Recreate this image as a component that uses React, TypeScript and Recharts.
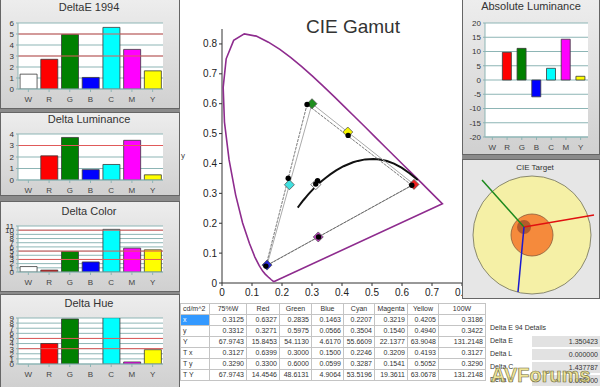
import React from 'react';
import {
  BarChart, Bar, Cell, XAxis, YAxis, CartesianGrid, ReferenceLine,
  ScatterChart, Scatter, ReferenceDot,
} from 'recharts';

const FONT = '"Liberation Sans", Arial, sans-serif';

// bar panels
const categories = ['W', 'R', 'G', 'B', 'C', 'M', 'Y'];
const barColors = ['#ffffff', '#ff0000', '#008000', '#0000ff', '#00ffff', '#ff00ff', '#ffff00'];

const deltaE1994 = [1.35, 2.7, 4.95, 1.05, 5.6, 3.6, 1.65];
const deltaLuminance = [0, 2.1, 3.7, 0.9, 1.35, 3.45, 0.45];
const deltaColor = [1.3, 0.45, 4.9, 2.4, 10.2, 5.7, 5.3];
const deltaHue = [0, 4.0, 8.8, 0, 9.05, 0.4, 2.8];
const absoluteLuminance = [0, 9.7, 11.1, -5.9, 4.1, 14.3, 1.3];

const ticksE = [0, 1, 2, 3, 4, 5, 6];
const ticksL = [0, 1, 2, 3, 4];
const ticksC = [0, 1, 2, 3, 4, 5, 6, 7, 8, 9, 10, 11];
const ticksH = [0, 1, 2, 3, 4, 5, 6, 7, 8, 9];
const ticksAbs = [-20, -15, -10, -5, 0, 5, 10, 15, 20];

const redE = [3, 5];
const redL = [3];
const redC = [3, 5, 10];
const redH = [3, 5];

// measurement table
const tableColumns = ['75%W', 'Red', 'Green', 'Blue', 'Cyan', 'Magenta', 'Yellow', '100W'];
const measuredX = [0.3125, 0.6327, 0.2835, 0.1463, 0.2207, 0.3219, 0.4205, 0.3186];
const measuredY = [0.3312, 0.3271, 0.5975, 0.0566, 0.3504, 0.1540, 0.4940, 0.3422];
const measuredLum = [67.9743, 15.8453, 54.1130, 4.6170, 55.6609, 22.1377, 63.9048, 131.2148];
const targetX = [0.3127, 0.6399, 0.3000, 0.1500, 0.2246, 0.3209, 0.4193, 0.3127];
const targetY = [0.3290, 0.3300, 0.6000, 0.0599, 0.3287, 0.1541, 0.5052, 0.3290];
const targetLum = [67.9743, 14.4546, 48.6131, 4.9064, 53.5196, 19.3611, 63.0678, 131.2148];
const diamondColors = ['#ffffff', '#f02020', '#1f8f1f', '#2828d8', '#40e0e0', '#c040c0', '#f5f500', '#ffffff'];

const deltaLabels = ['Delta E', 'Delta L', 'Delta C', 'Delta H'];
const deltaValues = ['1.350423', '0.000000', '1.437787', '0.000000'];

// CIE 1931 spectral locus (x, y)
const locusX = [0.1741, 0.1714, 0.1644, 0.1566, 0.1440, 0.1355, 0.1241, 0.1096, 0.0913, 0.0687, 0.0454, 0.0235, 0.0082, 0.0039, 0.0139, 0.0389, 0.0743, 0.1142, 0.1547, 0.1929, 0.2296, 0.2658, 0.3016, 0.3373, 0.3731, 0.4087, 0.4441, 0.4788, 0.5125, 0.5448, 0.5752, 0.6029, 0.6270, 0.6658, 0.6915, 0.7190, 0.7347, 0.1741];
const locusY = [0.0050, 0.0051, 0.0109, 0.0177, 0.0297, 0.0399, 0.0578, 0.0868, 0.1327, 0.2007, 0.2950, 0.4127, 0.5384, 0.6548, 0.7502, 0.8120, 0.8338, 0.8262, 0.8059, 0.7816, 0.7543, 0.7243, 0.6923, 0.6589, 0.6245, 0.5896, 0.5547, 0.5202, 0.4866, 0.4544, 0.4242, 0.3965, 0.3725, 0.3340, 0.3083, 0.2809, 0.2653, 0.0050];

// Planckian locus, 25000K down to 1000K
const planckX = [0.2525, 0.2565, 0.2637, 0.2719, 0.2807, 0.2869, 0.2952, 0.3064, 0.3135, 0.3221, 0.3325, 0.3451, 0.3608, 0.3805, 0.4053, 0.4369, 0.4527, 0.4770, 0.5046, 0.5267, 0.5497, 0.5733, 0.5985, 0.6251, 0.6528];
const planckY = [0.2522, 0.2577, 0.2673, 0.2778, 0.2884, 0.2956, 0.3048, 0.3166, 0.3237, 0.3318, 0.3411, 0.3516, 0.3636, 0.3768, 0.3907, 0.4041, 0.4086, 0.4137, 0.4152, 0.4133, 0.4084, 0.3993, 0.3858, 0.3674, 0.3444];

const gamutTicksX = [0, 0.1, 0.2, 0.3, 0.4, 0.5, 0.6, 0.7, 0.8];
const gamutTicksY = [0, 0.1, 0.2, 0.3, 0.4, 0.5, 0.6, 0.7, 0.8];

// CIE target vectors (a/b units, from the white error point)
const targetOrigin = { x: -1.6, y: 1.6 };
const targetR = { x: 12.4, y: 4.0 };
const targetG = { x: -10.0, y: 11.0 };
const targetB = { x: -2.8, y: -11.4 };

const locusPoints = locusX.map((x, i) => ({ x, y: locusY[i] }));
const planckPoints = planckX.map((x, i) => ({ x, y: planckY[i] }));
const targetPoints = tableColumns.slice(0, 7).map((name, i) => ({ name, x: targetX[i], y: targetY[i], color: diamondColors[i] }));
const measuredPoints = tableColumns.map((name, i) => ({ name, x: measuredX[i], y: measuredY[i] }));
const rgb = [1, 2, 3, 1];
const targetTriangle = rgb.map((i) => ({ x: targetX[i], y: targetY[i] }));
const measuredTriangle = rgb.map((i) => ({ x: measuredX[i], y: measuredY[i] }));

const NoShape = () => <g />;

const Diamond = (props: any) => {
  const { cx, cy, payload } = props;
  const s = 5;
  return (
    <polygon
      points={`${cx},${cy - s} ${cx + s},${cy} ${cx},${cy + s} ${cx - s},${cy}`}
      fill={payload.color}
      stroke="#555"
      strokeWidth={0.8}
    />
  );
};

const Dot = (props: any) => <circle cx={props.cx} cy={props.cy} r={2.7} fill="#000" />;

const fmt = (v: number) => (v === 0 ? '0' : v.toFixed(1));

const Box = ({ r, bg }: { r: number[]; bg: string }) => (
  <div style={{
    position: 'absolute', left: r[0], top: r[1], width: r[2], height: r[3],
    boxSizing: 'border-box', border: '1px solid #666', background: bg,
  }} />
);

const Title = ({ text, cx, cy, size }: { text: string; cx: number; cy: number; size: number }) => (
  <div style={{
    position: 'absolute', left: cx - 100, width: 200, top: cy - size * 0.6, textAlign: 'center',
    fontSize: size, lineHeight: `${size * 1.2}px`, color: '#333', fontFamily: FONT, whiteSpace: 'nowrap',
  }}>{text}</div>
);

const GRID = '#8db5b5';

interface BarPanelProps {
  values: number[];
  domain: [number, number];
  ticks: number[];
  redLines: number[];
  left: number;
  top: number;
  width: number;
  height: number;
  yAxisWidth: number;
  margin: { top: number; right: number };
  xAxisHeight: number;
  barGap: string;
}

const BarPanel: React.FC<BarPanelProps> = ({ values, domain, ticks, redLines, left, top, width, height, yAxisWidth, margin, xAxisHeight, barGap }) => {
  const data = categories.map((name, i) => ({ name, value: values[i] }));
  return (
    <div style={{ position: 'absolute', left, top }}>
      <BarChart width={width} height={height} data={data} barCategoryGap={barGap}
        margin={{ top: margin.top, right: margin.right, bottom: 0, left: 0 }}>
        <CartesianGrid vertical={false} stroke={GRID} fill="#ffffff" />
        <XAxis dataKey="name" interval={0} height={xAxisHeight} tickSize={3} tickMargin={4}
          stroke={GRID} tick={{ fontSize: 8, fill: '#444', fontFamily: FONT }} />
        <YAxis domain={domain} ticks={ticks} interval={0} width={yAxisWidth} tickSize={2} tickMargin={2}
          allowDataOverflow stroke={GRID} tick={{ fontSize: 8, fill: '#333', fontFamily: FONT }} />
        {redLines.map((v) => (
          <ReferenceLine key={v} y={v} stroke="#e05a5a" strokeWidth={1} />
        ))}
        <Bar dataKey="value" stroke="#3a3a3a" strokeWidth={0.8} isAnimationActive={false}>
          {data.map((d, i) => (
            <Cell key={d.name} fill={barColors[i]} />
          ))}
        </Bar>
      </BarChart>
    </div>
  );
};

const colWidths = [29, 37, 33, 32, 32, 31, 33, 31, 47];

const MeasureTable = () => {
  const rows: [string, number[]][] = [
    ['x', measuredX], ['y', measuredY], ['Y', measuredLum],
    ['T x', targetX], ['T y', targetY], ['T Y', targetLum],
  ];
  const cell: React.CSSProperties = {
    border: '1px solid #c4c4c4', height: 10, padding: '0 2px', fontSize: 7, lineHeight: '10px',
    fontFamily: FONT, color: '#333', whiteSpace: 'nowrap', overflow: 'hidden',
  };
  return (
    <table style={{
      position: 'absolute', left: 180, top: 303, borderCollapse: 'collapse', tableLayout: 'fixed',
      background: '#fff', border: '1px solid #888',
    }}>
      <colgroup>
        {colWidths.map((w, i) => <col key={i} style={{ width: w }} />)}
      </colgroup>
      <tbody>
        <tr>
          <td style={{ ...cell, textAlign: 'left' }}>cd/m^2</td>
          {tableColumns.map((c) => <td key={c} style={{ ...cell, textAlign: 'center' }}>{c}</td>)}
        </tr>
        {rows.map(([label, vals], r) => (
          <tr key={label}>
            <td style={{
              ...cell, textAlign: 'left',
              background: r === 0 ? '#3399ff' : '#fff', color: r === 0 ? '#fff' : '#333',
            }}>{label}</td>
            {vals.map((v, i) => <td key={i} style={{ ...cell, textAlign: 'right' }}>{v.toFixed(4)}</td>)}
          </tr>
        ))}
      </tbody>
    </table>
  );
};

const App: React.FC = () => {
  return (
    <div style={{
      position: 'absolute', left: 0, top: 0, width: 600, height: 387, overflow: 'hidden',
      background: '#ffffff', fontFamily: FONT,
    }}>
      {/* CIE gamut */}
      <div style={{ position: 'absolute', left: 180, top: 0 }}>
        <ScatterChart width={290} height={310} margin={{ top: 29, right: 8, bottom: 0, left: 0 }}>
          <XAxis type="number" dataKey="x" domain={[0, 0.8]} ticks={gamutTicksX} tickFormatter={fmt}
            height={27} tickSize={3} tickMargin={3} stroke="#333"
            tick={{ fontSize: 10, fill: '#222', fontFamily: FONT }} />
          <YAxis type="number" dataKey="y" domain={[0, 0.85]} ticks={gamutTicksY} tickFormatter={fmt}
            width={42} tickSize={3} tickMargin={2} stroke="#333"
            tick={{ fontSize: 10, fill: '#222', fontFamily: FONT }} />
          <Scatter data={locusPoints} line={{ stroke: '#8e2c8e', strokeWidth: 1.6 }} lineType="joint"
            shape={NoShape} isAnimationActive={false} />
          <Scatter data={planckPoints} line={{ stroke: '#111', strokeWidth: 2 }} lineType="joint"
            shape={NoShape} isAnimationActive={false} />
          <Scatter data={targetTriangle} line={{ stroke: '#aaaaaa', strokeWidth: 1 }} lineType="joint"
            shape={NoShape} isAnimationActive={false} />
          <Scatter data={measuredTriangle} line={{ stroke: '#555', strokeWidth: 0.8, strokeDasharray: '3 1' }}
            lineType="joint" shape={NoShape} isAnimationActive={false} />
          <Scatter data={targetPoints} shape={Diamond} isAnimationActive={false} />
          <Scatter data={measuredPoints} shape={Dot} isAnimationActive={false} />
        </ScatterChart>
      </div>
      <Title text="CIE Gamut" cx={353} cy={27} size={19} />
      <div style={{ position: 'absolute', left: 181, top: 151, fontSize: 8, color: '#444' }}>y</div>

      {/* left column */}
      <div style={{ position: 'absolute', left: 0, top: 0, width: 180, height: 387, background: '#8a8a8a' }} />
      <Box r={[0, -1, 180, 110]} bg="linear-gradient(#ededed, #d0d0d0)" />
      <Box r={[0, 112, 180, 84]} bg="linear-gradient(#ededed, #d0d0d0)" />
      <Box r={[0, 201, 180, 91]} bg="linear-gradient(#ededed, #d0d0d0)" />
      <Box r={[0, 294, 180, 94]} bg="linear-gradient(#ededed, #d0d0d0)" />

      <BarPanel values={deltaE1994} domain={[0, 6]} ticks={ticksE} redLines={redE}
        left={0} top={0} width={180} height={108} yAxisWidth={18} margin={{ top: 23, right: 17 }}
        xAxisHeight={19} barGap="10%" />
      <BarPanel values={deltaLuminance} domain={[0, 4]} ticks={ticksL} redLines={redL}
        left={0} top={112} width={180} height={85} yAxisWidth={18} margin={{ top: 22, right: 17 }}
        xAxisHeight={17} barGap="10%" />
      <BarPanel values={deltaColor} domain={[0, 11]} ticks={ticksC} redLines={redC}
        left={0} top={200} width={180} height={92} yAxisWidth={18} margin={{ top: 26, right: 17 }}
        xAxisHeight={20} barGap="10%" />
      <BarPanel values={deltaHue} domain={[0, 9]} ticks={ticksH} redLines={redH}
        left={0} top={295} width={180} height={92} yAxisWidth={18} margin={{ top: 23, right: 17 }}
        xAxisHeight={23} barGap="10%" />
      <Title text="DeltaE 1994" cx={89} cy={8} size={11} />
      <Title text="Delta Luminance" cx={89} cy={120} size={11} />
      <Title text="Delta Color" cx={89} cy={212} size={11} />
      <Title text="Delta Hue" cx={89} cy={304} size={11} />

      {/* right column */}
      <div style={{ position: 'absolute', left: 462, top: 0, width: 138, height: 299, background: '#8a8a8a' }} />
      <Box r={[462, -1, 138, 156]} bg="linear-gradient(#ededed, #d0d0d0)" />
      <BarPanel values={absoluteLuminance} domain={[-20, 20]} ticks={ticksAbs} redLines={[]}
        left={462} top={0} width={138} height={157} yAxisWidth={23} margin={{ top: 23, right: 12 }}
        xAxisHeight={20} barGap="18%" />
      <Title text="Absolute Luminance" cx={531} cy={7} size={11} />

      <Box r={[462, 159, 138, 140]} bg="#e6e6e6" />
      <div style={{ position: 'absolute', left: 462, top: 160, width: 138, height: 138, overflow: 'hidden' }}>
        <ScatterChart width={138} height={145} margin={{ top: 10, right: 3, bottom: 5, left: 5 }}>
          <XAxis type="number" dataKey="x" domain={[-13, 13]} hide />
          <YAxis type="number" dataKey="y" domain={[-13, 13]} hide />
          <ReferenceDot x={0} y={0} r={59} fill="#f5f0a6" stroke="#6f6f5a" strokeWidth={0.8} />
          <ReferenceDot x={0} y={0} r={21} fill="#f58a3c" stroke="#8a5a3a" strokeWidth={0.8} />
          <ReferenceDot x={targetOrigin.x} y={targetOrigin.y} r={7} fill="#b35a2c" stroke="none" />
          <Scatter data={[targetOrigin, targetG]} line={{ stroke: '#1d8a1d', strokeWidth: 1.5 }}
            lineType="joint" shape={NoShape} isAnimationActive={false} />
          <Scatter data={[targetOrigin, targetR]} line={{ stroke: '#e01010', strokeWidth: 1.5 }}
            lineType="joint" shape={NoShape} isAnimationActive={false} />
          <Scatter data={[targetOrigin, targetB]} line={{ stroke: '#1a1ad0', strokeWidth: 1.5 }}
            lineType="joint" shape={NoShape} isAnimationActive={false} />
        </ScatterChart>
      </div>
      <Title text="CIE Target" cx={535} cy={168} size={8} />

      {/* bottom table and details */}
      <MeasureTable />
      <div style={{ position: 'absolute', left: 490, top: 324, fontSize: 7, color: '#333' }}>Delta E 94 Details</div>
      {deltaLabels.map((label, i) => (
        <React.Fragment key={label}>
          <div style={{ position: 'absolute', left: 490, top: 337 + i * 13, fontSize: 7, color: '#333' }}>{label}</div>
          <div style={{
            position: 'absolute', left: 532, top: 336 + i * 13, width: 68, height: 11, boxSizing: 'border-box',
            background: '#e2e2e2', fontSize: 7, lineHeight: '11px', textAlign: 'right', paddingRight: 2, color: '#333',
          }}>{deltaValues[i]}</div>
        </React.Fragment>
      ))}
      <div style={{
        position: 'absolute', left: 491, top: 363, fontSize: 20, fontWeight: 'bold', lineHeight: '24px',
        color: 'rgba(236, 222, 120, 0.75)', WebkitTextStroke: '0.6px #6d6a40', whiteSpace: 'nowrap',
      }}>AVForums</div>
    </div>
  );
};

export default App;
